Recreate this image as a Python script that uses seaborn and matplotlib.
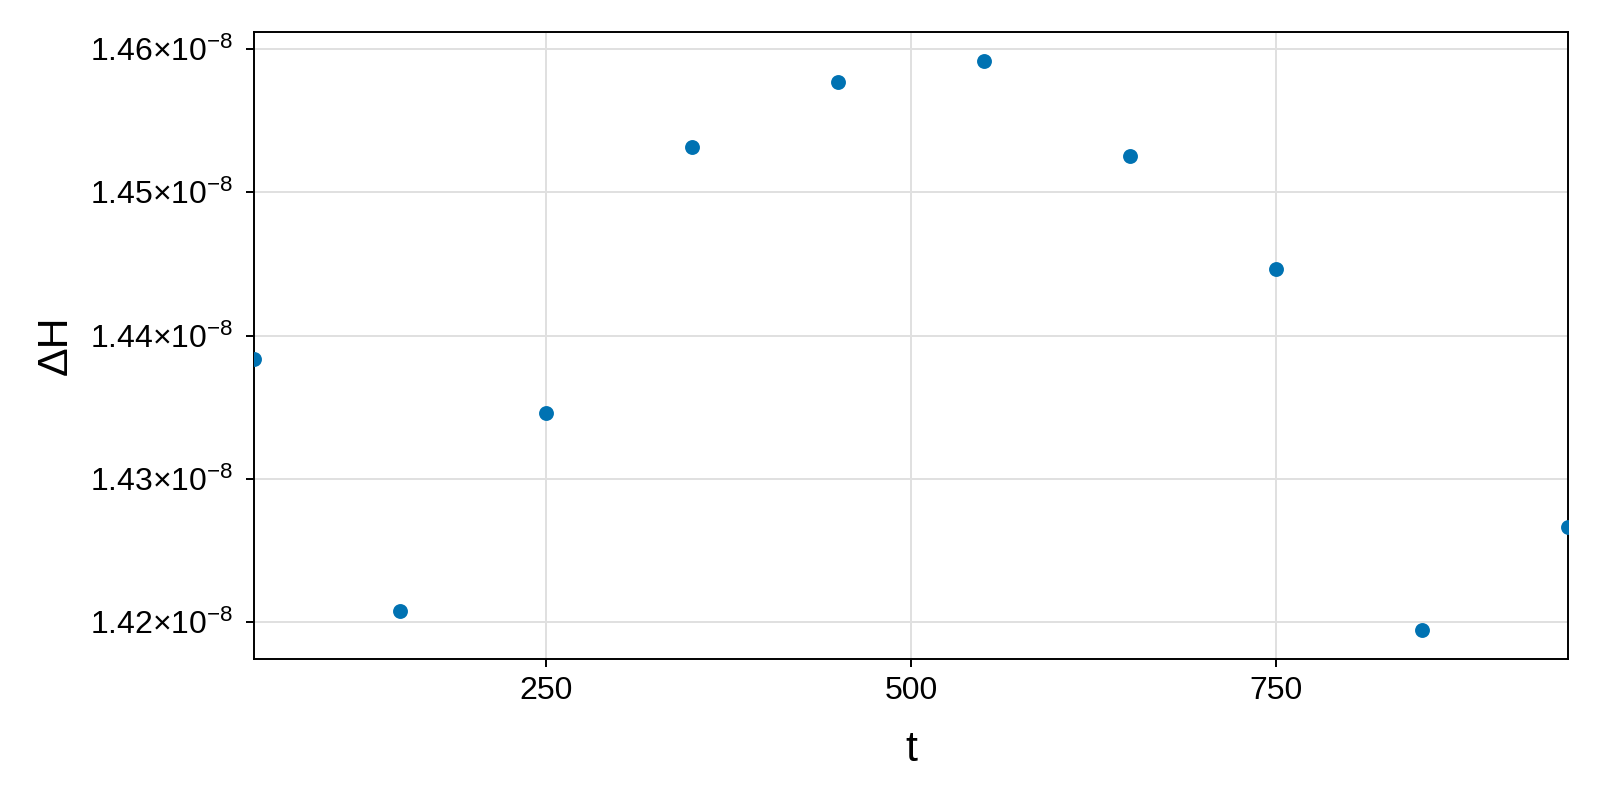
import numpy as np
import matplotlib
matplotlib.use("Agg")
import matplotlib.pyplot as plt
from matplotlib.ticker import FixedLocator, FuncFormatter
import seaborn as sns

# data
t = [50, 150, 250, 350, 450, 550, 650, 750, 850, 950]
dH = [1.43837e-8, 1.42075e-8, 1.43460e-8, 1.45313e-8, 1.45773e-8,
      1.45915e-8, 1.45256e-8, 1.44462e-8, 1.41943e-8, 1.42666e-8]
xticks = [250, 500, 750]
yticks = [1.42e-8, 1.43e-8, 1.44e-8, 1.45e-8, 1.46e-8]

sns.set_style("white")
plt.rcParams['font.family'] = ['Liberation Sans', 'DejaVu Sans']
plt.rcParams['mathtext.fontset'] = 'custom'
plt.rcParams['mathtext.rm'] = 'Liberation Sans'
plt.rcParams['mathtext.it'] = 'Liberation Sans:italic'
plt.rcParams['xtick.bottom'] = True
plt.rcParams['ytick.left'] = True
plt.rcParams['xtick.major.size'] = 6
plt.rcParams['ytick.major.size'] = 6
plt.rcParams['xtick.major.width'] = 1.4
plt.rcParams['ytick.major.width'] = 1.4
plt.rcParams['text.color'] = 'black'
plt.rcParams['axes.labelcolor'] = 'black'

fig = plt.figure(figsize=(16, 8), dpi=100)
ax = fig.add_axes([0.15875, 0.17625, 0.82125, 0.78375])

sns.scatterplot(x=t, y=dH, ax=ax, color="#0072B2", s=115, linewidth=0, zorder=3)

ax.set_xlim(50, 950)
ax.set_ylim(1.41742e-8, 1.46119e-8)
ax.xaxis.set_major_locator(FixedLocator(xticks))
ax.yaxis.set_major_locator(FixedLocator(yticks))

def fmt_y(v, pos):
    m = v / 1e-8
    return r"$\mathregular{%.2f{\times}10^{-8}}$" % m

ax.yaxis.set_major_formatter(FuncFormatter(fmt_y))

ax.grid(True, color="#e0e0e0", linewidth=1.4)
ax.set_axisbelow(True)
for s in ax.spines.values():
    s.set_visible(True)
    s.set_color("black")
    s.set_linewidth(1.4)

ax.tick_params(axis='both', which='major', direction='out', length=6, width=1.4,
               color='black', labelsize=23, labelcolor='black')
ax.tick_params(axis='x', pad=6.5, bottom=True)
ax.tick_params(axis='y', pad=9, left=True)

ax.set_xlabel("t", fontsize=31, labelpad=17)
ax.set_ylabel("ΔH", fontsize=31, labelpad=10)

fig.savefig("out.png", dpi=100)
